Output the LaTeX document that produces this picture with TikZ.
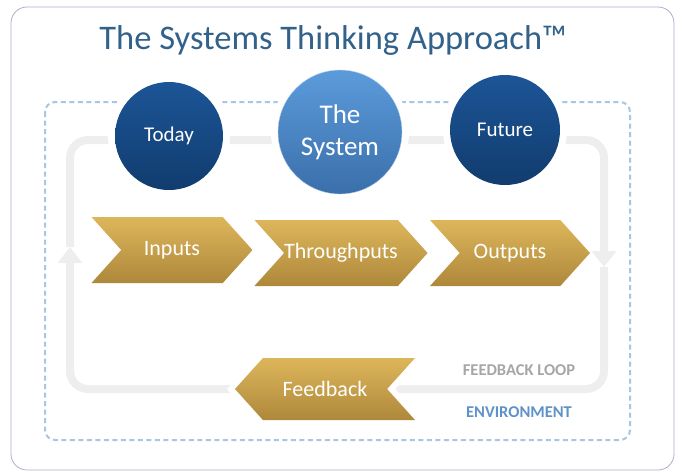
\documentclass[tikz,border=0pt]{standalone}
\usepackage{fontspec}
\setmainfont{Carlito}
\usetikzlibrary{shapes.symbols,arrows.meta,backgrounds}
\definecolor{titleblue}{HTML}{32618A}
\definecolor{framegray}{HTML}{A9B1C9}
\definecolor{envblue}{HTML}{A8C6E2}
\definecolor{envtext}{HTML}{5E92C8}
\definecolor{loopgray}{HTML}{EEEEEE}
\definecolor{looptext}{HTML}{A6A6A6}
\definecolor{navytop}{HTML}{1C5597}
\definecolor{navybot}{HTML}{113C6E}
\definecolor{skytop}{HTML}{5C9BDB}
\definecolor{skybot}{HTML}{3A6FAA}
\definecolor{goldtop}{HTML}{DDB65B}
\definecolor{goldbot}{HTML}{AE883B}
\tikzset{
  orb/.style={circle, inner sep=0pt, text=white, align=center,
    preaction={draw=white, line width=14pt}},
  darkorb/.style={orb, top color=navytop, bottom color=navybot,
    font=\fontsize{21}{24}\selectfont},
  chevron/.style={signal, signal from=west, signal to=east,
    signal pointer angle=96, inner sep=0pt, minimum height=66,
    top color=goldtop, bottom color=goldbot, text=white,
    font=\fontsize{22}{26}\selectfont},
  loopline/.style={loopgray, line width=8pt, rounded corners=18},
  note/.style={font=\bfseries\fontsize{16.5}{20}\selectfont},
}
\begin{document}
\begin{tikzpicture}[x=1pt, y=-1pt]
  \useasboundingbox (0,0) rectangle (681,475);
  \draw[framegray, line width=0.8pt, rounded corners=16] (11,7) rectangle (674,470);
  \node[titleblue, font=\fontsize{34.5}{40}\selectfont] (title) at (333,40) {The Systems Thinking Approach™};
  % environment
  \draw[envblue, line width=2pt, dash pattern=on 5pt off 3.5pt, rounded corners=10] (45,102) rectangle (630,440);
  % feedback loop
  \node[chevron, signal to=west, signal from=east, minimum width=180, minimum height=62,
    preaction={draw=white, line width=12pt}] (feedback) at (325,389) {Feedback};
  \coordinate (lefttip) at (70,247);
  \coordinate (righttip) at (604,267);
  \begin{scope}[on background layer]
    \draw[loopline, -{Triangle[width=24pt, length=16pt]}] (feedback.center) -| (lefttip);
    \draw[loopline, -{Triangle[width=24pt, length=16pt]}] (lefttip) |- (604,140) -- (righttip);
    \draw[loopline] (righttip) |- (feedback.center);
  \end{scope}
  % circles
  \node[darkorb, minimum size=108] (today) at (169,136) {Today};
  \node[orb, minimum size=124, top color=skytop, bottom color=skybot, draw=white!60!skytop,
    font=\fontsize{27}{32}\selectfont] (system) at (340,132) {The\\System};
  \node[darkorb, minimum size=110] (future) at (505,130) {Future};
  % flow
  \node[chevron, minimum width=161] (inputs) at (172,250) {Inputs};
  \node[chevron, minimum width=169] (through) at (341,253) {Throughputs};
  \node[chevron, minimum width=160] (outputs) at (510,253) {Outputs};
  \node[note, looptext] (looplbl) at (519,370) {FEEDBACK LOOP};
  \node[note, envtext] (envlbl) at (519,412) {ENVIRONMENT};
\end{tikzpicture}
\end{document}
